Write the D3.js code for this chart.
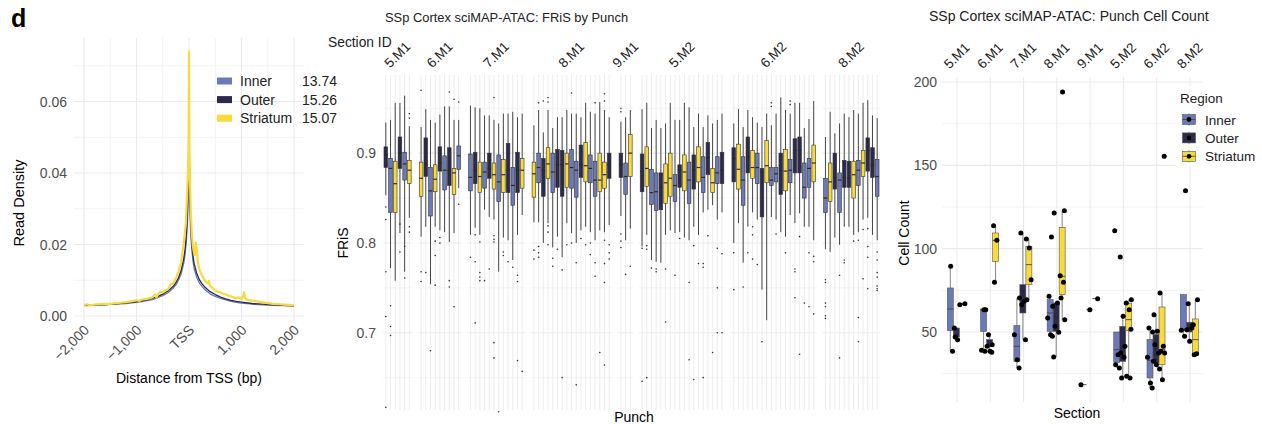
<!DOCTYPE html>
<html>
<head>
<meta charset="utf-8">
<script src="https://cdn.jsdelivr.net/npm/d3@7"></script>
<style>
  body { margin: 0; background: #fff; }
  svg { display: block; font-family: "Liberation Sans", Arial, sans-serif; }
</style>
</head>
<body>
<svg id="chart" width="1262" height="424"></svg>
<script>
/* ---------- panel d, left: TSS enrichment ---------- */
const tssPos = [-2000,-1800,-1600,-1400,-1200,-1000,-900,-800,-700,-600,-500,-400,-300,-250,-200,-150,-100,-75,-50,-30,-15,-5,0,5,15,30,50,75,100,150,200,250,300,400,500,600,700,800,900,1000,1200,1400,1600,1800,2000];
const innerDens = [.0029,.0030,.0031,.0033,.0035,.0038,.0040,.0043,.0046,.0051,.0057,.0065,.0078,.0087,.0100,.0118,.0148,.0172,.0210,.0265,.0330,.0420,.0500,.0400,.0310,.0245,.0190,.0155,.0132,.0107,.0092,.0082,.0074,.0062,.0055,.0049,.0045,.0041,.0038,.0036,.0033,.0031,.0030,.0029,.0028];
const outerDens = [.0030,.0031,.0032,.0034,.0037,.0040,.0042,.0045,.0049,.0054,.0061,.0070,.0083,.0093,.0107,.0127,.0160,.0186,.0228,.0290,.0370,.0480,.0620,.0470,.0350,.0270,.0210,.0170,.0145,.0118,.0101,.0090,.0081,.0068,.0060,.0053,.0048,.0044,.0041,.0039,.0035,.0033,.0031,.0030,.0029];
const striPos = [-2000,-1950,-1900,-1800,-1700,-1600,-1500,-1400,-1300,-1200,-1100,-1000,-950,-900,-800,-700,-650,-620,-600,-550,-500,-450,-400,-350,-300,-250,-200,-170,-150,-120,-100,-80,-60,-45,-30,-20,-10,-5,0,3,8,15,25,35,50,70,90,110,130,145,160,180,200,230,260,300,330,360,380,400,450,500,550,600,650,700,750,800,850,900,950,1000,1030,1050,1070,1100,1200,1300,1400,1500,1600,1700,1800,1900,2000];
const striDens = [.0030,.0033,.0030,.0032,.0033,.0034,.0034,.0036,.0037,.0039,.0041,.0044,.0042,.0046,.0048,.0052,.0060,.0052,.0058,.0068,.0066,.0072,.0075,.0088,.0092,.0105,.0125,.0140,.0148,.0185,.0205,.0230,.0260,.0310,.0360,.0400,.0470,.0560,.0740,.0620,.0450,.0400,.0340,.0290,.0240,.0200,.0180,.0170,.0205,.0190,.0165,.0140,.0130,.0118,.0110,.0100,.0095,.0092,.0098,.0084,.0078,.0072,.0068,.0066,.0062,.0060,.0057,.0055,.0052,.0050,.0052,.0048,.0055,.0066,.0050,.0046,.0043,.0041,.0038,.0036,.0034,.0033,.0032,.0031,.0030];
const tssLegend = ['Inner','Outer','Striatum'];
const tssScores = ['13.74','15.26','15.07'];

/* ---------- middle: FRiS by punch ---------- */
const sections = ['5.M1','6.M1','7.M1','8.M1','9.M1','5.M2','6.M2','8.M2'];
const frisRegions = ['OISOIS','SOISOIOSI','IOSIOSISOIOS','SIOSIOOSIIOSIISSO','OIS','OSIIOSSIOSIOSIOSIO','OSIOSIOSIIOSIOOIIS','ISOIOOSISOOI'];
const frisHi = [
  [.934,.937,.956,.956,.964,.930],
  [.929,.949,.937,.934,.943,.952,.952,.937,.937],
  [.953,.951,.950,.942,.942,.937,.933,.944,.944,.946,.940,.944],
  [.931,.948,.923,.948,.928,.940,.940,.948,.944,.944,.940,.956,.946,.944,.957,.948,.940],
  [.935,.940,.948],
  [.949,.956,.928,.937,.928,.933,.956,.937,.937,.956,.951,.929,.944,.929,.942,.933,.937,.944],
  [.933,.949,.929,.948,.940,.934,.929,.944,.931,.944,.962,.948,.944,.956,.956,.928,.938,.958],
  [.918,.946,.922,.933,.944,.940,.948,.944,.956,.959,.942,.939]
];
const frisQ3 = [
  [.907,.894,.891,.918,.901,.892],
  [.890,.917,.884,.887,.907,.897,.906,.883,.908],
  [.899,.901,.890,.890,.900,.889,.898,.893,.911,.884,.901,.894],
  [.890,.900,.894,.906,.900,.904,.903,.900,.904,.891,.909,.912,.898,.891,.900,.890,.900],
  [.900,.889,.921],
  [.899,.907,.882,.878,.878,.888,.900,.876,.887,.898,.890,.898,.907,.896,.912,.883,.896,.901],
  [.906,.910,.896,.918,.903,.900,.883,.914,.884,.884,.900,.904,.893,.916,.918,.889,.894,.909],
  [.872,.889,.900,.878,.892,.891,.891,.892,.903,.917,.906,.893]
];
const frisMed = [
  [.898,.883,.866,.900,.888,.881],
  [.872,.887,.858,.871,.889,.881,.881,.878,.897],
  [.873,.881,.874,.879,.883,.876,.868,.876,.881,.864,.881,.881],
  [.877,.884,.881,.888,.879,.887,.887,.888,.884,.881,.887,.886,.883,.870,.870,.876,.887],
  [.887,.874,.900],
  [.880,.883,.856,.857,.862,.867,.872,.864,.881,.879,.870,.881,.884,.873,.895,.867,.878,.881],
  [.894,.882,.870,.896,.884,.884,.879,.886,.870,.877,.881,.880,.881,.903,.903,.862,.883,.889],
  [.850,.868,.873,.870,.873,.872,.876,.881,.889,.903,.887,.874]
];
const frisQ1 = [
  [.884,.834,.834,.883,.870,.866],
  [.852,.874,.830,.857,.880,.859,.864,.854,.882],
  [.858,.866,.856,.861,.872,.860,.846,.856,.856,.842,.856,.861],
  [.851,.867,.852,.872,.856,.862,.852,.862,.861,.851,.873,.868,.867,.852,.857,.861,.872],
  [.873,.854,.874],
  [.857,.863,.843,.836,.837,.844,.852,.846,.862,.858,.844,.860,.868,.856,.876,.856,.866,.866],
  [.868,.860,.842,.878,.872,.866,.829,.867,.864,.868,.854,.858,.867,.878,.878,.850,.862,.868],
  [.834,.846,.860,.834,.862,.862,.850,.864,.874,.880,.873,.852]
];
const frisLo = [
  [.853,.772,.758,.811,.768,.828],
  [.807,.818,.754,.818,.814,.812,.801,.811,.861],
  [.809,.817,.809,.837,.829,.826,.768,.806,.803,.781,.809,.831],
  [.823,.823,.800,.822,.795,.807,.784,.822,.811,.800,.814,.818,.812,.803,.814,.812,.820],
  [.830,.803,.816],
  [.796,.809,.781,.779,.778,.809,.814,.811,.812,.806,.803,.818,.809,.834,.837,.842,.826,.834],
  [.800,.822,.778,.818,.834,.826,.748,.714,.829,.826,.812,.807,.831,.822,.833,.818,.818,.803],
  [.793,.790,.806,.798,.818,.818,.809,.812,.826,.828,.809,.803]
];
// [section index, punch index, FRiS]
const frisOutliers = [
  [0,0,.840],[0,0,.826],[0,0,.768],[0,0,.718],[0,0,.617],[0,1,.730],[0,1,.707],[0,1,.697],[0,3,.821],[0,3,.790],[0,4,.796],[0,4,.761],[0,5,.944],[0,5,.939],[0,5,.818],[0,5,.812],
  [1,0,.970],[1,6,.968],[1,7,.960],[1,8,.957],[1,8,.843],[1,4,.806],[1,4,.800],[1,0,.768],[1,0,.757],[1,1,.767],[1,3,.802],[1,3,.786],[1,3,.753],[1,6,.758],[1,2,.680],[1,6,.751],[1,7,.729],
  [2,5,.962],[2,1,.809],[2,2,.801],[2,0,.784],[2,1,.779],[2,2,.767],[2,2,.762],[2,2,.758],[2,3,.758],[2,5,.808],[2,5,.804],[2,5,.801],[2,4,.771],[2,7,.790],[2,7,.786],[2,8,.779],[2,9,.773],[2,10,.764],[2,10,.757],[2,1,.711],[2,5,.672],[2,5,.689],[2,10,.669],[2,11,.657],[2,6,.612],
  [3,1,.956],[3,2,.958],[3,3,.962],[3,3,.957],[3,8,.967],[3,13,.956],[3,15,.966],[3,15,.958],[3,0,.792],[3,0,.782],[3,1,.796],[3,1,.789],[3,1,.784],[3,3,.819],[3,3,.812],[3,3,.798],[3,4,.783],[3,4,.774],[3,5,.793],[3,6,.770],[3,7,.798],[3,8,.800],[3,9,.778],[3,10,.805],[3,11,.798],[3,12,.800],[3,12,.787],[3,13,.778],[3,13,.763],[3,15,.803],[3,15,.777],[3,15,.756],[3,16,.798],[3,16,.789],[3,16,.782],[3,6,.650],[3,9,.642],[3,14,.678],[3,15,.664],
  [4,0,.950],[4,0,.946],[4,0,.810],[4,0,.802],[4,0,.795],[4,1,.765],[4,2,.774],
  [5,0,.794],[5,1,.797],[5,1,.793],[5,2,.772],[5,3,.771],[5,3,.768],[5,5,.771],[5,7,.764],[5,8,.805],[5,10,.756],[5,11,.797],[5,12,.777],[5,13,.777],[5,13,.773],[5,14,.808],[5,16,.794],[5,16,.750],[5,17,.788],[5,0,.646],[5,1,.650],[5,5,.712],[5,11,.648],[5,13,.650],[5,15,.678],[5,16,.700],[5,17,.700],[5,10,.670],
  [6,8,.956],[6,8,.952],[6,12,.958],[6,12,.954],[6,4,.818],[6,4,.809],[6,3,.789],[6,4,.782],[6,9,.810],[6,13,.768],[6,14,.807],[6,16,.789],[6,17,.785],[6,0,.789],[6,0,.748],[6,2,.751],[6,5,.776],[6,6,.690],[6,11,.789],[6,13,.771],[6,14,.676],[6,13,.739],[6,15,.733],[6,16,.729],[6,17,.721],[6,17,.779],
  [7,0,.759],[7,0,.756],[7,3,.764],[7,4,.781],[7,4,.778],[7,6,.802],[7,7,.803],[7,8,.815],[7,9,.816],[7,9,.796],[7,9,.784],[7,11,.790],[7,11,.781],[7,11,.767],[7,11,.762],[7,0,.733],[7,0,.729],[7,0,.719],[7,0,.716],[7,3,.672],[7,7,.717],[7,7,.690],[7,8,.760],[7,9,.749],[7,11,.752],[7,11,.749],[7,11,.747]
];
const frisTicks = [0.7, 0.8, 0.9];
const frisMinor = [0.65, 0.75, 0.85, 0.95];

/* ---------- right: punch cell count ---------- */
const countRegions = ['Inner','Outer','Striatum'];
// [section, region, lower whisker, q1, median, q3, upper whisker]
const countBoxes = [
  ['5.M1','Inner',38.4,50.8,63.8,76.4,89.4],['5.M1','Outer',45.4,47,50,52.4,52.4],['5.M1','Striatum',66.4,66.4,66.7,67,67],
  ['6.M1','Inner',38.4,50.4,63,63.8,63.8],['6.M1','Outer',37.8,41.4,42.4,45.4,48.4],['6.M1','Striatum',79.8,92.4,105,109.4,113.8],
  ['7.M1','Inner',28.4,32.4,41.4,53.8,70.4],['7.M1','Outer',45.4,61.4,67,78.4,109.4],['7.M1','Striatum',69.4,78.4,90.4,101.4,105.8],
  ['8.M1','Inner',47.4,50.4,61.4,69.4,71.4],['8.M1','Outer',35,50.4,54,67.4,67.4],['8.M1','Striatum',57.4,72.4,83.4,112.8,122.8],
  ['9.M1','Inner',18.4,18.4,18.4,18.4,18.4],['9.M1','Outer',63.4,63.4,63.4,63.4,63.4],['9.M1','Striatum',70,70,70,70,70],
  ['5.M2','Inner',28.4,31.8,39.4,50,50],['5.M2','Outer',22.4,32.4,37.4,53.4,59.4],['5.M2','Striatum',22.4,50.8,57.4,67,69.4],
  ['6.M2','Inner',16.4,22.4,33,45.4,52.4],['6.M2','Outer',30.4,31.4,34.8,48.4,60.4],['6.M2','Striatum',21.4,30.4,39.4,65,73.4],
  ['8.M2','Inner',47.4,51,51.4,72.4,72.4],['8.M2','Outer',44.4,50,51.4,55.8,67],['8.M2','Striatum',36.4,36.4,45.4,57.8,69.4]
];
// [section, region, cell count]
const countPoints = [
  ['5.M1','Inner',89.4],['5.M1','Inner',38.4],['5.M1','Outer',52.4],['5.M1','Outer',45.4],['5.M1','Outer',47],['5.M1','Striatum',67],['5.M1','Striatum',66.4],
  ['6.M1','Inner',63.4],['6.M1','Inner',63.4],['6.M1','Inner',39],['6.M1','Inner',38.4],['6.M1','Outer',48.4],['6.M1','Outer',42.4],['6.M1','Outer',41.4],['6.M1','Outer',38.4],['6.M1','Outer',37.8],['6.M1','Striatum',113.8],['6.M1','Striatum',105],['6.M1','Striatum',79.8],
  ['7.M1','Inner',70.4],['7.M1','Inner',48.4],['7.M1','Inner',33.4],['7.M1','Inner',28.4],['7.M1','Outer',109.4],['7.M1','Outer',68.4],['7.M1','Outer',66.4],['7.M1','Outer',45.4],['7.M1','Striatum',105.8],['7.M1','Striatum',100.4],['7.M1','Striatum',81.4],['7.M1','Striatum',69.4],
  ['8.M1','Inner',107],['8.M1','Inner',71.4],['8.M1','Inner',65.4],['8.M1','Inner',58.4],['8.M1','Inner',48.4],['8.M1','Inner',47.4],['8.M1','Outer',121.4],['8.M1','Outer',67.4],['8.M1','Outer',53.4],['8.M1','Outer',49.8],['8.M1','Outer',35],['8.M1','Striatum',194],['8.M1','Striatum',122.8],['8.M1','Striatum',83.8],['8.M1','Striatum',79.8],['8.M1','Striatum',70.4],['8.M1','Striatum',57.4],
  ['9.M1','Inner',18.4],['9.M1','Outer',63.4],['9.M1','Striatum',70],
  ['5.M2','Inner',110.8],['5.M2','Inner',36.4],['5.M2','Inner',30.4],['5.M2','Inner',28.4],['5.M2','Outer',95],['5.M2','Outer',59.4],['5.M2','Outer',41.4],['5.M2','Outer',37.4],['5.M2','Outer',34.8],['5.M2','Outer',22.4],['5.M2','Striatum',69.4],['5.M2','Striatum',67.4],['5.M2','Striatum',63.4],['5.M2','Striatum',51.6],['5.M2','Striatum',23.4],['5.M2','Striatum',22.4],
  ['6.M2','Inner',52.4],['6.M2','Inner',50],['6.M2','Inner',34.8],['6.M2','Inner',19.4],['6.M2','Inner',16.4],['6.M2','Outer',60.4],['6.M2','Outer',50.4],['6.M2','Outer',42.4],['6.M2','Outer',37.4],['6.M2','Outer',32.4],['6.M2','Outer',30.4],['6.M2','Striatum',155.4],['6.M2','Striatum',73.4],['6.M2','Striatum',41.4],['6.M2','Striatum',38.4],['6.M2','Striatum',37.4],['6.M2','Striatum',27.8],['6.M2','Striatum',21.4],
  ['8.M2','Inner',134.8],['8.M2','Inner',51],['8.M2','Inner',47.4],['8.M2','Outer',67],['8.M2','Outer',52.4],['8.M2','Outer',51.4],['8.M2','Outer',44.4],['8.M2','Striatum',69.4],['8.M2','Striatum',54.4],['8.M2','Striatum',37],['8.M2','Striatum',36.4]
];
const countTicks = [50, 100, 150, 200];
const countMinor = [25, 75, 125, 175];

/* ---------- drawing ---------- */
const COLORS = { Inner: '#6b79b8', Outer: '#2c2a4c', Striatum: '#f8da3c' };
const REGION = { I: 'Inner', O: 'Outer', S: 'Striatum' };
const GRID = '#ebebeb';
const AXIS_TXT = '#4d4d4d';
const svg = d3.select('#chart');

function hLines(g, vals, y, x0, x1, w) {
  g.selectAll(null).data(vals).join('line')
    .attr('x1', x0).attr('x2', x1).attr('y1', d => y(d)).attr('y2', d => y(d))
    .attr('stroke', GRID).attr('stroke-width', w);
}
function vLines(g, xs, y0, y1, w) {
  g.selectAll(null).data(xs).join('line')
    .attr('x1', d => d).attr('x2', d => d).attr('y1', y0).attr('y2', y1)
    .attr('stroke', GRID).attr('stroke-width', w);
}

function drawDensity() {
  const g = svg.append('g');
  const x = d3.scaleLinear().domain([-2000, 2000]).range([84, 294]);
  const y = d3.scaleLinear().domain([0, 0.07]).range([316, 65.75]);

  g.append('text').attr('x', 11).attr('y', 27).attr('font-size', 25).attr('font-weight', 'bold').text('d');

  hLines(g, [0.01, 0.03, 0.05, 0.07], y, 74, 304, 0.6);
  hLines(g, [0, 0.02, 0.04, 0.06], y, 74, 304, 1.1);
  vLines(g, [-1500, -500, 500, 1500].map(x), 38, 321, 0.6);
  vLines(g, [-2000, -1000, 0, 1000, 2000].map(x), 38, 321, 1.1);

  g.selectAll(null).data([0, 0.02, 0.04, 0.06]).join('text')
    .attr('x', 67).attr('y', d => y(d) + 5).attr('text-anchor', 'end')
    .attr('font-size', 14).attr('fill', AXIS_TXT).text(d3.format('.2f'));
  g.selectAll(null).data([-2000, -1000, 0, 1000, 2000]).join('text')
    .attr('text-anchor', 'end').attr('font-size', 14).attr('fill', AXIS_TXT)
    .attr('transform', d => `translate(${x(d) + 6},${331}) rotate(-45)`)
    .text(d => d === 0 ? 'TSS' : d3.format(',')(d));

  g.append('text').attr('transform', 'translate(24,203) rotate(-90)').attr('text-anchor', 'middle')
    .attr('font-size', 14.5).text('Read Density');
  g.append('text').attr('x', 189).attr('y', 383).attr('text-anchor', 'middle')
    .attr('font-size', 14).text('Distance from TSS (bp)');

  const line = d3.line().x(d => x(d[0])).y(d => y(d[1]));
  const series = [
    { name: 'Inner', pts: d3.zip(tssPos, innerDens), w: 1.3 },
    { name: 'Outer', pts: d3.zip(tssPos, outerDens), w: 1.3 },
    { name: 'Striatum', pts: d3.zip(striPos, striDens), w: 2.2 }
  ];
  g.selectAll(null).data(series).join('path')
    .attr('d', d => line(d.pts)).attr('fill', 'none')
    .attr('stroke', d => COLORS[d.name]).attr('stroke-width', d => d.w).attr('stroke-linejoin', 'round');

  const lg = g.selectAll(null).data(tssLegend).join('g')
    .attr('transform', (d, i) => `translate(0,${81 + i * 18.6})`);
  lg.append('rect').attr('x', 217).attr('y', -3.5).attr('width', 15).attr('height', 7).attr('fill', d => COLORS[d]);
  lg.append('text').attr('x', 240).attr('y', 5).attr('font-size', 14).attr('fill', '#222').text(d => d);
  lg.append('text').attr('x', 302).attr('y', 5).attr('font-size', 14).attr('fill', '#222').text((d, i) => tssScores[i]);
}

function drawFris() {
  const g = svg.append('g');
  const X0 = 383, X1 = 880, GAP = 6.1, TOP = 75, BOT = 410;
  const y = d3.scaleLinear().domain([0.614, 0.987]).range([BOT, TOP]);
  const counts = frisRegions.map(r => r.length);
  const units = d3.sum(counts, n => n + 0.2);
  const step = (X1 - X0 - GAP * (counts.length - 1)) / units;
  let cursor = X0;
  const facets = counts.map((n, i) => {
    const x0 = cursor, w = (n + 0.2) * step;
    cursor += w + GAP;
    return { i, n, x0, x1: x0 + w, x: d3.scaleLinear().domain([-0.6, n - 0.4]).range([x0, x0 + w]) };
  });

  facets.forEach(f => {
    hLines(g, frisMinor, y, f.x0, f.x1, 0.6);
    hLines(g, frisTicks, y, f.x0, f.x1, 1.1);
    vLines(g, d3.range(f.n).map(f.x), TOP, BOT, 0.9);
  });

  const boxes = facets.flatMap(f => frisRegions[f.i].split('').map((r, j) => ({
    x: f.x(j), region: REGION[r],
    lo: frisLo[f.i][j], q1: frisQ1[f.i][j], med: frisMed[f.i][j], q3: frisQ3[f.i][j], hi: frisHi[f.i][j]
  })));
  const bw = step * 0.78;
  g.selectAll(null).data(boxes).join('line')
    .attr('x1', d => d.x).attr('x2', d => d.x).attr('y1', d => y(d.hi)).attr('y2', d => y(d.lo))
    .attr('stroke', '#333').attr('stroke-width', 0.9);
  g.selectAll(null).data(boxes).join('rect')
    .attr('x', d => d.x - bw / 2).attr('width', bw)
    .attr('y', d => y(d.q3)).attr('height', d => y(d.q1) - y(d.q3))
    .attr('fill', d => COLORS[d.region]).attr('stroke', '#333').attr('stroke-width', 0.6);
  g.selectAll(null).data(boxes).join('line')
    .attr('x1', d => d.x - bw / 2).attr('x2', d => d.x + bw / 2).attr('y1', d => y(d.med)).attr('y2', d => y(d.med))
    .attr('stroke', '#2a2a2a').attr('stroke-width', 1.2);
  g.selectAll(null).data(frisOutliers).join('circle')
    .attr('cx', d => facets[d[0]].x(d[1])).attr('cy', d => y(d[2])).attr('r', 0.8).attr('fill', '#333');

  g.selectAll(null).data(frisTicks).join('text')
    .attr('x', 376).attr('y', d => y(d) + 5).attr('text-anchor', 'end')
    .attr('font-size', 14).attr('fill', AXIS_TXT).text(d3.format('.1f'));
  g.selectAll(null).data(facets).join('text')
    .attr('text-anchor', 'middle').attr('font-size', 13.5).attr('fill', '#222')
    .attr('transform', f => `translate(${(f.x0 + f.x1) / 2 + 3},${58}) rotate(-45)`)
    .text(f => sections[f.i]);

  g.append('text').attr('x', 385).attr('y', 22).attr('font-size', 12.9).attr('fill', '#222')
    .text('SSp Cortex sciMAP-ATAC: FRiS by Punch');
  g.append('text').attr('x', 328).attr('y', 47).attr('font-size', 13.8).attr('fill', '#222').text('Section ID');
  g.append('text').attr('transform', 'translate(348,243) rotate(-90)').attr('text-anchor', 'middle')
    .attr('font-size', 14).text('FRiS');
  g.append('text').attr('x', 634).attr('y', 422).attr('text-anchor', 'middle').attr('font-size', 14).text('Punch');
}

function drawCounts() {
  const g = svg.append('g');
  const TOP = 77, BOT = 402, LEFT = 942, RIGHT = 1203;
  const x = d3.scalePoint().domain(sections).range([957, 1190]);
  const y = d3.scaleLinear().domain([0, 200]).range([415.3, 82]);
  const dodge = d3.scalePoint().domain(countRegions).range([-6.7, 5.3]);
  const bw = 6;

  hLines(g, countMinor, y, LEFT, RIGHT, 0.6);
  hLines(g, countTicks, y, LEFT, RIGHT, 1.1);
  vLines(g, sections.map(x), TOP, BOT, 1.1);

  const boxes = countBoxes.map(b => ({ x: x(b[0]) + dodge(b[1]), region: b[1], lo: b[2], q1: b[3], med: b[4], q3: b[5], hi: b[6] }));
  g.selectAll(null).data(boxes).join('line')
    .attr('x1', d => d.x).attr('x2', d => d.x).attr('y1', d => y(d.hi)).attr('y2', d => y(d.lo))
    .attr('stroke', '#666').attr('stroke-width', 0.8);
  g.selectAll(null).data(boxes).join('rect')
    .attr('x', d => d.x - bw / 2).attr('width', bw)
    .attr('y', d => y(d.q3)).attr('height', d => Math.max(0, y(d.q1) - y(d.q3)))
    .attr('fill', d => COLORS[d.region]).attr('stroke', '#555').attr('stroke-width', 0.6);
  g.selectAll(null).data(boxes).join('line')
    .attr('x1', d => d.x - bw / 2).attr('x2', d => d.x + bw / 2).attr('y1', d => y(d.med)).attr('y2', d => y(d.med))
    .attr('stroke', '#444').attr('stroke-width', 0.9);

  const jitter = [0.4, 2.2, -2, 1.3, -1.1, 2.6, -2.5];
  g.selectAll(null).data(countPoints).join('circle')
    .attr('cx', (d, i) => x(d[0]) + dodge(d[1]) + jitter[i % jitter.length])
    .attr('cy', d => y(d[2])).attr('r', 2.5).attr('fill', '#000');

  g.selectAll(null).data(countTicks).join('text')
    .attr('x', 937).attr('y', d => y(d) + 5).attr('text-anchor', 'end')
    .attr('font-size', 14).attr('fill', AXIS_TXT).text(d => d);
  g.selectAll(null).data(sections).join('text')
    .attr('text-anchor', 'middle').attr('font-size', 13.5).attr('fill', '#222')
    .attr('transform', d => `translate(${x(d) + 3},${59}) rotate(-45)`).text(d => d);

  g.append('text').attr('x', 929).attr('y', 21).attr('font-size', 14).attr('fill', '#222')
    .text('SSp Cortex sciMAP-ATAC: Punch Cell Count');
  g.append('text').attr('transform', 'translate(909,233) rotate(-90)').attr('text-anchor', 'middle')
    .attr('font-size', 14).text('Cell Count');
  g.append('text').attr('x', 1077).attr('y', 418).attr('text-anchor', 'middle').attr('font-size', 14).text('Section');

  // legend
  g.append('rect').attr('x', 1176).attr('y', 86).attr('width', 86).attr('height', 80).attr('fill', '#fff');
  g.append('text').attr('x', 1180).attr('y', 103).attr('font-size', 13.5).attr('fill', '#222').text('Region');
  const lg = g.selectAll(null).data(countRegions).join('g')
    .attr('transform', (d, i) => `translate(1189,${119.5 + i * 18.4})`);
  lg.append('line').attr('y1', -6).attr('y2', 6).attr('stroke', '#666').attr('stroke-width', 0.8);
  lg.append('rect').attr('x', -6.5).attr('y', -5).attr('width', 13).attr('height', 10)
    .attr('fill', d => COLORS[d]).attr('stroke', '#555').attr('stroke-width', 0.6);
  lg.append('line').attr('x1', -6.5).attr('x2', 6.5).attr('stroke', '#444').attr('stroke-width', 0.8);
  lg.append('circle').attr('r', 2.4).attr('fill', '#000');
  lg.append('text').attr('x', 16).attr('y', 5).attr('font-size', 13.5).attr('fill', '#222').text(d => d);
}

drawDensity();
drawFris();
drawCounts();
</script>
</body>
</html>
